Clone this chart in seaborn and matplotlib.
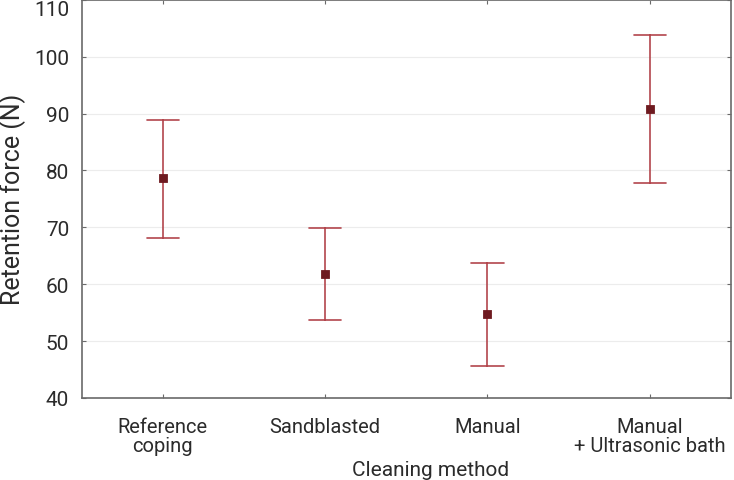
import matplotlib
matplotlib.use("Agg")
import matplotlib.pyplot as plt
import seaborn as sns
import pandas as pd

categories = ["Reference\ncoping", "Sandblasted", "Manual", "Manual\n+ Ultrasonic bath"]
means = [78.6, 61.8, 54.7, 90.8]
lower = [68.2, 53.7, 45.7, 77.8]
upper = [88.9, 69.8, 63.7, 103.8]
yticks = [40, 50, 60, 70, 80, 90, 100, 110]

rows = []
for c, lo, m, hi in zip(categories, lower, means, upper):
    for v in (lo, m, hi):
        rows.append({"method": c, "force": v})
df = pd.DataFrame(rows)

sns.set_theme(style="white")
plt.rcParams["font.family"] = ["Roboto", "DejaVu Sans"]
plt.rcParams["font.weight"] = "normal"

fig = plt.figure(figsize=(7.34, 4.81), dpi=100)
ax = fig.add_axes([0.1113, 0.1705, 0.8845, 0.828])

line_col = "#b3464d"
mark_col = "#6e1a20"
sns.pointplot(data=df, x="method", y="force", order=categories,
              estimator="median", errorbar=("pi", 100), capsize=0.2,
              linestyle="none", marker="s", markersize=5,
              color=line_col, err_kws={"linewidth": 1.2}, ax=ax)
for ln in ax.lines:
    if ln.get_marker() == "s":
        ln.set_markerfacecolor(mark_col)
        ln.set_markeredgecolor(mark_col)
        ln.set_zorder(5)

txt = "#2b2b2b"
ax.set_ylim(40, 110)
ax.set_xlim(-0.5, 3.5)
ax.set_yticks(yticks)
ax.set_yticklabels([str(t) for t in yticks], fontsize=15, color=txt)
ax.get_yticklabels()[-1].set_verticalalignment("top")
ax.set_xticks(range(len(categories)))
ax.set_xticklabels(categories, fontsize=14.5, color=txt, linespacing=0.95)
ax.set_xlabel("Cleaning method", fontsize=15, color=txt)
ax.set_ylabel("Retention force (N)", fontsize=18, color=txt)
ax.xaxis.set_label_coords(0.538, -0.155)
ax.yaxis.set_label_coords(-0.086, 0.5)
ax.grid(axis="y", color="#ececec", linewidth=0.8)
ax.set_axisbelow(True)
for s in ax.spines.values():
    s.set_visible(True)
    s.set_color("#6a6a6a")
    s.set_linewidth(1.2)
ax.tick_params(axis="both", direction="in", length=3, width=0.8, color="#6a6a6a",
               top=True, right=True, bottom=True, left=True, pad=9)
ax.tick_params(axis="x", pad=14)

fig.savefig("out.png", dpi=100)
